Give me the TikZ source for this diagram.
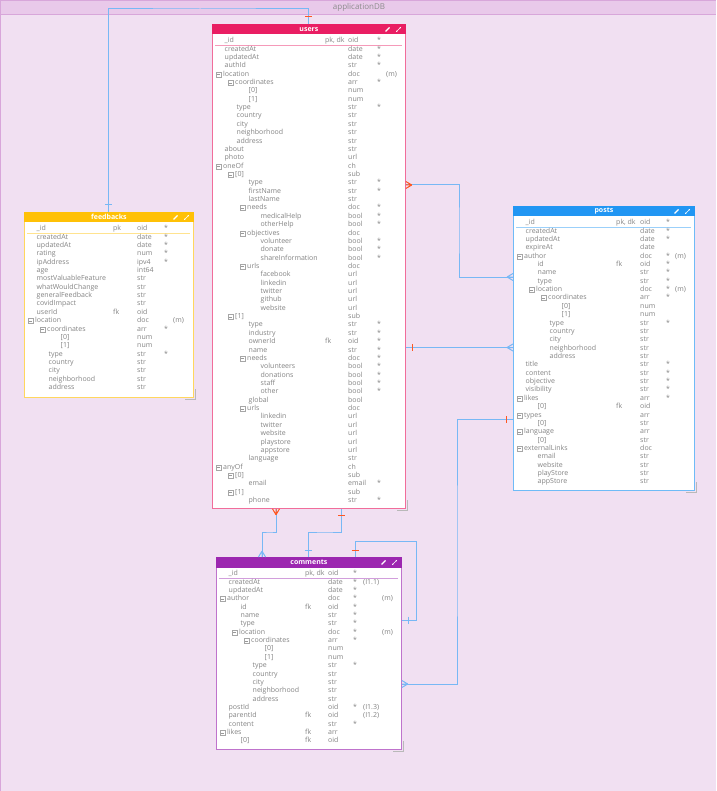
\documentclass[tikz,border=0pt]{standalone}
\usepackage{fontspec}
\setmainfont{Open Sans}
\usetikzlibrary{arrows.meta}

\definecolor{dbback}{RGB}{241,224,242}
\definecolor{dbband}{RGB}{233,201,234}
\definecolor{dbedge}{RGB}{216,166,218}
\definecolor{userscol}{RGB}{233,30,99}
\definecolor{feedbackscol}{RGB}{255,193,7}
\definecolor{postscol}{RGB}{33,150,243}
\definecolor{commentscol}{RGB}{156,39,176}
\definecolor{relblue}{RGB}{120,184,245}
\definecolor{relred}{RGB}{255,87,34}
\definecolor{fieldgray}{RGB}{132,132,132}

\tikzset{
  tablebox/.style={draw, fill=white, line width=0.8pt, anchor=north west, inner sep=0pt},
  tabletitle/.style={text=white, font=\bfseries\fontsize{7}{8}\selectfont, inner sep=0pt},
  rowtext/.style={anchor=west, inner sep=0pt, text=fieldgray, text height=5pt,
    text depth=1.5pt, font=\fontsize{7}{8}\selectfont},
  togglebox/.style={draw=gray!70, fill=white, line width=0.5pt},
  rel/.style={draw=relblue, line width=1pt},
  bluemark/.style={draw=relblue, line width=1pt},
  redmark/.style={draw=relred, line width=1pt},
  crowfoot/.pic={\draw[pic actions] (0,-3.5) -- (6,0) (0,0) -- (6,0) (0,3.5) -- (6,0);},
  onemark/.pic={\draw[pic actions] (7,-3.5) -- (7,3.5);}
}

% table frame: name, x, y, width, height, colour
\newcommand{\erdtable}[6]{%
  \draw[gray!55, line width=1.2pt] ({#2+#4+2.5},{#3+#5-8}) -- ({#2+#4+2.5},{#3+#5+2.5})
    -- ({#2+#4-8},{#3+#5+2.5});
  \node[tablebox, draw=#6!65, minimum width=#4pt, minimum height=#5pt] (#1) at (#2,#3) {};
  \fill[#6] (#1.north west) rectangle ([yshift=-10.5pt]#1.north east);
  \node[tabletitle] (#1-title) at ([yshift=-5.25pt]#1.north) {#1};
  \draw[#6!45, line width=0.8pt] ({#2+3},{#3+21.5}) -- ({#2+#4-3},{#3+21.5});
  \draw[white, line width=1.3pt] ({#2+#4-19.5},{#3+7.5}) -- ({#2+#4-15.5},{#3+3.5});
  \draw[white, line width=0.4pt, {Stealth[length=1.5pt,width=1.8pt]}-{Stealth[length=1.5pt,width=1.8pt]}]
    ({#2+#4-9},{#3+8}) -- ({#2+#4-4},{#3+3});
}

% table fields: name, x, y, key col, type col, required col, extra col, rows
\newcommand{\erdrows}[8]{%
  \foreach \flvl/\ftog/\fname/\fkey/\ftype/\freq/\fextra [count=\i] in {#8} {
    \pgfmathsetmacro{\ry}{#3+17+8.36*(\i-1)}
    \pgfmathsetmacro{\rx}{#2+12.5+12*\flvl-1.5*\ftog}
    \ifnum\ftog=1
      \draw[togglebox] ({\rx-7},{\ry-2.5}) rectangle ({\rx-2},{\ry+2.5});
      \draw[gray!80, line width=0.5pt] ({\rx-6},\ry) -- ({\rx-3},\ry);
    \fi
    \node[rowtext] (#1-\i) at (\rx,\ry) {\fname};
    \node[rowtext] (#1-\i-key) at ({#2+#4},\ry) {\fkey};
    \node[rowtext] (#1-\i-type) at ({#2+#5},\ry) {\ftype};
    \node[rowtext] (#1-\i-req) at ({#2+#6},\ry) {\freq};
    \node[rowtext] (#1-\i-extra) at ({#2+#7},\ry) {\fextra};
  }
}

\begin{document}
\begin{tikzpicture}[x=1pt, y=-1pt]
  \useasboundingbox (0,0) rectangle (716,791);
  \fill[dbback] (0,0) rectangle (716,791);
  \fill[dbband] (0,0) rectangle (716,14);
  \draw[dbedge, line width=0.8pt] (0,14) -- (716,14);
  \draw[dbedge, line width=1pt] (0.5,0) -- (0.5,791);
  \draw[dbedge, line width=1pt] (0,0.5) -- (716,0.5);
  \node[text=gray!90, font=\fontsize{8}{9}\selectfont, inner sep=0pt] (db-title) at (359,7) {applicationDB};

  % users
  \erdtable{users}{212}{24}{193}{484}{userscol}
  \erdrows{users}{212}{24}{113}{136}{165}{174}{
    0/0/\_id/{pk, dk}/oid/*/,
    0/0/createdAt//date/*/,
    0/0/updatedAt//date/*/,
    0/0/authId//str/*/,
    0/1/location//doc//(m),
    1/1/coordinates//arr/*/,
    2/0/[0]//num//,
    2/0/[1]//num//,
    1/0/type//str/*/,
    1/0/country//str//,
    1/0/city//str//,
    1/0/neighborhood//str//,
    1/0/address//str//,
    0/0/about//str//,
    0/0/photo//url//,
    0/1/oneOf//ch//,
    1/1/[0]//sub//,
    2/0/type//str/*/,
    2/0/firstName//str/*/,
    2/0/lastName//str//,
    2/1/needs//doc/*/,
    3/0/medicalHelp//bool/*/,
    3/0/otherHelp//bool/*/,
    2/1/objectives//doc//,
    3/0/volunteer//bool/*/,
    3/0/donate//bool/*/,
    3/0/shareInformation//bool/*/,
    2/1/urls//doc//,
    3/0/facebook//url//,
    3/0/linkedin//url//,
    3/0/twitter//url//,
    3/0/github//url//,
    3/0/website//url//,
    1/1/[1]//sub//,
    2/0/type//str/*/,
    2/0/industry//str/*/,
    2/0/ownerId/fk/oid/*/,
    2/0/name//str/*/,
    2/1/needs//doc/*/,
    3/0/volunteers//bool/*/,
    3/0/donations//bool/*/,
    3/0/staff//bool/*/,
    3/0/other//bool/*/,
    2/0/global//bool//,
    2/1/urls//doc//,
    3/0/linkedin//url//,
    3/0/twitter//url//,
    3/0/website//url//,
    3/0/playstore//url//,
    3/0/appstore//url//,
    2/0/language//str//,
    0/1/anyOf//ch//,
    1/1/[0]//sub//,
    2/0/email//email/*/,
    1/1/[1]//sub//,
    2/0/phone//str/*/}

  % feedbacks
  \erdtable{feedbacks}{24}{212}{169}{185}{feedbackscol}
  \erdrows{feedbacks}{24}{212}{89}{113}{140}{149}{
    0/0/\_id/pk/oid/*/,
    0/0/createdAt//date/*/,
    0/0/updatedAt//date/*/,
    0/0/rating//num/*/,
    0/0/ipAddress//ipv4/*/,
    0/0/age//int64//,
    0/0/mostValuableFeature//str//,
    0/0/whatWouldChange//str//,
    0/0/generalFeedback//str//,
    0/0/covidImpact//str//,
    0/0/userId/fk/oid//,
    0/1/location//doc//(m),
    1/1/coordinates//arr/*/,
    2/0/[0]//num//,
    2/0/[1]//num//,
    1/0/type//str/*/,
    1/0/country//str//,
    1/0/city//str//,
    1/0/neighborhood//str//,
    1/0/address//str//}

  % posts
  \erdtable{posts}{513}{206}{181}{284}{postscol}
  \erdrows{posts}{513}{206}{103}{127}{153}{162}{
    0/0/\_id/{pk, dk}/oid/*/,
    0/0/createdAt//date/*/,
    0/0/updatedAt//date/*/,
    0/0/expireAt//date//,
    0/1/author//doc/*/(m),
    1/0/id/fk/oid/*/,
    1/0/name//str/*/,
    1/0/type//str/*/,
    1/1/location//doc/*/(m),
    2/1/coordinates//arr/*/,
    3/0/[0]//num//,
    3/0/[1]//num//,
    2/0/type//str/*/,
    2/0/country//str//,
    2/0/city//str//,
    2/0/neighborhood//str//,
    2/0/address//str//,
    0/0/title//str/*/,
    0/0/content//str/*/,
    0/0/objective//str/*/,
    0/0/visibility//str/*/,
    0/1/likes//arr/*/,
    1/0/[0]/fk/oid//,
    0/1/types//arr//,
    1/0/[0]//str//,
    0/1/language//arr//,
    1/0/[0]//str//,
    0/1/externalLinks//doc//,
    1/0/email//str//,
    1/0/website//str//,
    1/0/playStore//str//,
    1/0/appStore//str//}

  % comments
  \erdtable{comments}{216}{557}{185}{192}{commentscol}
  \erdrows{comments}{216}{557}{89}{112}{137}{147}{
    0/0/\_id/{pk, dk}/oid/*/,
    0/0/createdAt//date/*/(I1.1),
    0/0/updatedAt//date/*/,
    0/1/author//doc/*/,
    1/0/id/fk/oid/*/,
    1/0/name//str/*/,
    1/0/type//str/*/,
    1/1/location//doc/*/,
    2/1/coordinates//arr/*/,
    3/0/[0]//num//,
    3/0/[1]//num//,
    2/0/type//str/*/,
    2/0/country//str//,
    2/0/city//str//,
    2/0/neighborhood//str//,
    2/0/address//str//,
    0/0/postId//oid/*/(I1.3),
    0/0/parentId/fk/oid//(I1.2),
    0/0/content//str/*/,
    0/1/likes/fk/arr//,
    1/0/[0]/fk/oid//}
  \node[rowtext] (comments-4-m) at (382,599.1) {(m)};
  \node[rowtext] (comments-8-m) at (382,632.5) {(m)};

  % relationships
  \coordinate (db-top) at (200,9);
  \draw[rel] (feedbacks.north) |- (db-top) -| (users.north);
  \pic[bluemark, rotate=90] at (feedbacks.north) {onemark};
  \pic[redmark, rotate=90] at (users.north) {onemark};

  \coordinate (u-east1) at (users.east |- 0,185);
  \coordinate (p-west1) at (posts.west |- 0,277);
  \coordinate (bend-a) at (459,230);
  \draw[rel] (u-east1) -| (bend-a) |- (p-west1);
  \pic[redmark] at (u-east1) {crowfoot};
  \pic[bluemark, rotate=180] at (p-west1) {crowfoot};

  \coordinate (u-east2) at (users.east |- 0,347.5);
  \coordinate (p-west2) at (posts.west |- 0,347.5);
  \draw[rel] (u-east2) -- (p-west2);
  \pic[redmark] at (u-east2) {onemark};
  \pic[bluemark, rotate=180] at (p-west2) {crowfoot};

  \coordinate (p-west3) at (posts.west |- 0,419);
  \coordinate (c-east1) at (comments.east |- 0,684);
  \coordinate (bend-b) at (457,550);
  \draw[rel] (p-west3) -| (bend-b) |- (c-east1);
  \pic[redmark, rotate=180] at (p-west3) {onemark};
  \pic[bluemark] at (c-east1) {crowfoot};

  \coordinate (c-east2) at (comments.east |- 0,620);
  \coordinate (loop-top) at (416,541);
  \coordinate (c-north1) at (comments.north -| 355,0);
  \draw[rel] (c-east2) -| (loop-top) -| (c-north1);
  \pic[bluemark] at (c-east2) {onemark};
  \pic[redmark, rotate=90] at (c-north1) {onemark};

  \coordinate (u-south1) at (users.south -| 276,0);
  \coordinate (c-north2) at (comments.north -| 262,0);
  \coordinate (jog-a) at (270,532);
  \draw[rel] (u-south1) |- (jog-a) -| (c-north2);
  \pic[redmark, rotate=-90] at (u-south1) {crowfoot};
  \pic[bluemark, rotate=90] at (c-north2) {crowfoot};

  \coordinate (u-south2) at (users.south -| 341,0);
  \coordinate (c-north3) at (comments.north -| 308,0);
  \coordinate (jog-b) at (325,532);
  \draw[rel] (u-south2) |- (jog-b) -| (c-north3);
  \pic[redmark, rotate=-90] at (u-south2) {onemark};
  \pic[bluemark, rotate=90] at (c-north3) {onemark};
\end{tikzpicture}
\end{document}
